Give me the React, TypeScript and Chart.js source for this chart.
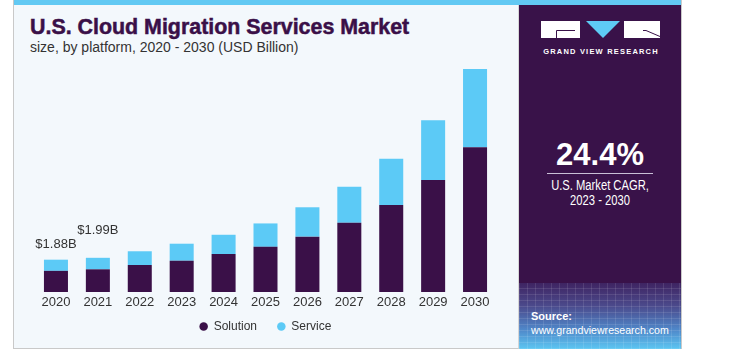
import React, { useEffect, useRef } from "react";
import { Chart, registerables } from "chart.js";

Chart.register(...registerables);

// ---- data ----
const years = ["2020", "2021", "2022", "2023", "2024", "2025", "2026", "2027", "2028", "2029", "2030"];
const solution = [1.23, 1.32, 1.57, 1.82, 2.21, 2.63, 3.22, 4.03, 5.06, 6.51, 8.43];
const service = [0.65, 0.67, 0.8, 0.99, 1.12, 1.36, 1.71, 2.09, 2.69, 3.49, 4.55];
const seriesNames = ["Solution", "Service"];
const totalLabels = ["$1.88B", "$1.99B"];
const titleText = "U.S. Cloud Migration Services Market";
const subtitleText = "size, by platform, 2020 - 2030 (USD Billion)";
const cagrValue = "24.4%";
const cagrLines = ["U.S. Market CAGR,", "2023 - 2030"];

const PURPLE = "#3a1048";
const CYAN = "#5ccaf6";
const PANEL = "#391249";
const FONT = "'Liberation Sans', Arial, sans-serif";

const totalsPlugin = {
  id: "totals",
  afterDatasetsDraw(chart: any) {
    const meta = chart.getDatasetMeta(1);
    const ctx = chart.ctx;
    const offsets = [15, 27];
    ctx.save();
    ctx.font = `13px ${FONT}`;
    ctx.fillStyle = "#333333";
    ctx.textAlign = "center";
    ctx.textBaseline = "middle";
    totalLabels.forEach((t, i) => {
      const el = meta.data[i];
      if (el) ctx.fillText(t, el.x, el.y - offsets[i]);
    });
    ctx.restore();
  },
};

function BarChart() {
  const ref = useRef<HTMLCanvasElement | null>(null);
  useEffect(() => {
    if (!ref.current) return;
    const chart = new Chart(ref.current, {
      type: "bar",
      data: {
        labels: years,
        datasets: [
          {
            label: seriesNames[0],
            data: solution,
            backgroundColor: PURPLE,
            borderWidth: 0,
            categoryPercentage: 1,
            barPercentage: 0.573,
          },
          {
            label: seriesNames[1],
            data: service,
            backgroundColor: CYAN,
            borderWidth: 0,
            categoryPercentage: 1,
            barPercentage: 0.573,
          },
        ],
      },
      options: {
        responsive: false,
        animation: false,
        layout: { padding: { left: 21, right: 22, top: 0, bottom: 6.4 } },
        scales: {
          x: {
            stacked: true,
            grid: { display: false, drawTicks: false },
            border: { display: false },
            ticks: { color: "#333333", font: { family: FONT, size: 13 }, padding: 3 },
          },
          y: {
            stacked: true,
            display: false,
            min: 0,
            max: 13.5,
          },
        },
        plugins: {
          tooltip: { enabled: false },
          title: { display: false },
          legend: {
            position: "bottom",
            labels: {
              usePointStyle: true,
              pointStyle: "circle",
              boxWidth: 8,
              boxHeight: 6,
              padding: 7,
              color: "#333333",
              font: { family: FONT, size: 12 },
              generateLabels: (c: any) => {
                const items = (Chart as any).defaults.plugins.legend.labels.generateLabels(c);
                return items.map((it: any, i: number) => ({
                  ...it,
                  lineWidth: 0,
                  text: i === 0 ? it.text + "    " : it.text,
                }));
              },
            },
          },
        },
      },
      plugins: [totalsPlugin],
    } as any);
    return () => chart.destroy();
  }, []);
  return (
    <canvas
      ref={ref}
      width={504}
      height={289}
      style={{ position: "absolute", left: 14, top: 60, width: 504, height: 289 }}
    />
  );
}

export default function App() {
  const text = (style: React.CSSProperties, children: React.ReactNode) => (
    <div style={{ position: "absolute", whiteSpace: "nowrap", ...style }}>{children}</div>
  );
  return (
    <div
      style={{
        position: "fixed",
        left: 0,
        top: 0,
        width: 729,
        height: 362,
        background: "#ffffff",
        overflow: "hidden",
        fontFamily: FONT,
      }}
    >
      {/* left panel */}
      <div
        style={{
          position: "absolute",
          left: 13,
          top: 0,
          width: 504,
          height: 348,
          background: "#f3f8fc",
          borderLeft: "1px solid #c9c9c9",
          borderRight: "1px solid #d6d6d6",
          borderBottom: "1px solid #c9c9c9",
        }}
      />
      {/* right panel */}
      <div
        style={{
          position: "absolute",
          left: 519,
          top: 0,
          width: 162,
          height: 349,
          background: PANEL,
          borderRight: "1px solid #c9c9c9",
        }}
      />
      <div
        style={{
          position: "absolute",
          left: 519,
          top: 283,
          width: 162,
          height: 66,
          background:
            "repeating-linear-gradient(90deg, rgba(255,255,255,0.10) 0px, rgba(255,255,255,0.10) 1px, transparent 1px, transparent 8px)," +
            "repeating-linear-gradient(0deg, rgba(255,255,255,0.10) 0px, rgba(255,255,255,0.10) 1px, transparent 1px, transparent 6px)," +
            "linear-gradient(to bottom, #3f2462 0%, #4b4a8c 35%, #4f86c8 70%, #5cc6f2 100%)",
        }}
      />
      {/* top stripe */}
      <div style={{ position: "absolute", left: 14, top: 0, width: 667, height: 5, background: "#62c9f3" }} />

      {/* logo */}
      <svg
        width={729}
        height={362}
        style={{ position: "absolute", left: 0, top: 0, pointerEvents: "none" }}
      >
        <rect x={541} y={21} width={39} height={17} fill="#ffffff" />
        <path d="M556.5 38 V30.5 H575" stroke={PANEL} strokeWidth={1} fill="none" />
        <polygon points="586,21 620,21 603,38" fill="#5ecbf5" />
        <rect x={624} y={21} width={36} height={17} fill="#ffffff" />
        <path d="M643 30.5 H646 L660 36.5" stroke={PANEL} strokeWidth={1} fill="none" />
      </svg>

      {text(
        {
          left: 519,
          width: 162,
          textAlign: "center",
          top: 48,
          fontSize: 7.5,
          lineHeight: "7.5px",
          fontWeight: "bold",
          letterSpacing: 1.2,
          color: "#ffffff",
          paddingLeft: 1,
        },
        "GRAND VIEW RESEARCH"
      )}

      {/* titles */}
      {text(
        {
          left: 30,
          top: 17,
          fontSize: 21.4,
          lineHeight: "21px",
          fontWeight: "bold",
          color: PURPLE,
          WebkitTextStroke: `0.5px ${PURPLE}`,
        } as any,
        titleText
      )}
      {text({ left: 30, top: 40, fontSize: 14, lineHeight: "14px", color: "#333333" }, subtitleText)}

      {/* CAGR */}
      {text(
        {
          left: 519,
          width: 162,
          textAlign: "center",
          top: 139,
          fontSize: 31,
          lineHeight: "31px",
          fontWeight: "bold",
          color: "#ffffff",
        },
        cagrValue
      )}
      <div style={{ position: "absolute", left: 547, top: 172.5, width: 106, height: 1.5, background: "#c9bfd6" }} />
      {text(
        {
          left: 519,
          width: 162,
          textAlign: "center",
          top: 178,
          fontSize: 14,
          lineHeight: "14px",
          transform: "scaleX(0.8)",
          transformOrigin: "50% 50%",
          color: "#ffffff",
        },
        cagrLines[0]
      )}
      {text(
        {
          left: 519,
          width: 162,
          textAlign: "center",
          top: 193,
          fontSize: 14,
          lineHeight: "14px",
          transform: "scaleX(0.8)",
          transformOrigin: "50% 50%",
          color: "#ffffff",
        },
        cagrLines[1]
      )}

      {/* source */}
      {text(
        { left: 531, top: 310.5, fontSize: 11, lineHeight: "11px", fontWeight: "bold", color: "#ffffff" },
        "Source:"
      )}
      {text(
        { left: 531, top: 324.5, fontSize: 10.6, lineHeight: "11px", color: "#ffffff" },
        "www.grandviewresearch.com"
      )}

      <BarChart />
    </div>
  );
}
